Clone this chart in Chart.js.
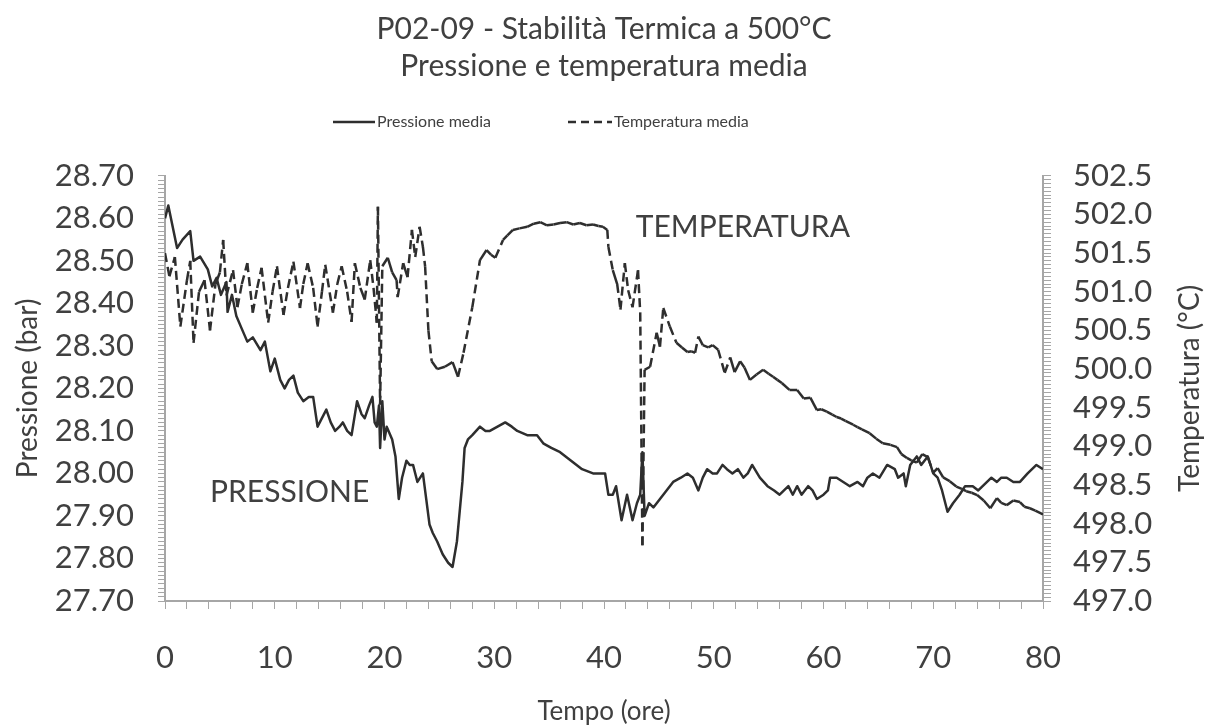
<!DOCTYPE html>
<html lang="it">
<head>
<meta charset="utf-8">
<title>P02-09 - Stabilità Termica a 500°C</title>
<script src="https://cdn.jsdelivr.net/npm/chart.js@4.4.1/dist/chart.umd.min.js"></script>
<style>
  html, body { margin: 0; padding: 0; background: #fff; }
  #wrap { width: 1208px; height: 728px; position: relative; }
</style>
</head>
<body>
<div id="wrap"><canvas id="stabilitaChart"></canvas></div>
<script>
// Pressione media (bar) nel tempo (ore)
const tempoPressione = [
  0.0, 0.3, 0.7, 1.1, 1.6, 2.3, 2.6, 3.2, 3.9, 4.3, 4.7, 5.1, 5.6, 5.7, 6.1, 6.5, 7.0, 7.5, 8.0, 8.7,
  9.1, 9.6, 10.0, 10.5, 10.9, 11.3, 11.7, 12.1, 12.6, 13.1, 13.5, 13.9, 14.3, 14.7, 15.1, 15.5, 15.9, 16.2, 16.6, 17.0,
  17.5, 17.9, 18.2, 18.6, 18.9, 19.1, 19.3, 19.5, 19.6, 19.8, 20.0, 20.2, 20.7, 21.0, 21.3, 21.6, 22.0, 22.3, 22.6, 23.0,
  23.5, 23.8, 24.1, 24.4, 24.8, 25.3, 25.8, 26.2, 26.6, 27.1, 27.3, 27.6, 28.0, 28.7, 29.2, 29.6, 30.3, 31.0, 31.6, 32.1,
  33.0, 33.9, 34.5, 35.2, 36.0, 37.0, 38.0, 39.0, 40.1, 40.4, 40.8, 41.1, 41.6, 42.1, 42.6, 43.0, 43.3, 43.5, 43.7, 44.1,
  44.5, 45.1, 45.7, 46.3, 47.0, 47.6, 48.1, 48.6, 49.0, 49.4, 49.9, 50.3, 50.8, 51.2, 51.7, 52.2, 52.7, 53.1, 53.5, 54.2,
  54.9, 55.5, 56.0, 56.4, 56.8, 57.2, 57.6, 58.0, 58.6, 59.0, 59.4, 60.0, 60.4, 60.6, 61.2, 61.8, 62.4, 63.1, 63.6, 64.0,
  64.5, 65.1, 65.8, 66.5, 66.8, 67.3, 67.5, 67.9, 68.5, 68.9, 69.5, 70.0, 70.4, 70.8, 71.3, 71.8, 72.4, 72.9, 73.6, 74.1,
  74.5, 75.3, 75.8, 76.2, 76.7, 77.3, 77.9, 78.6, 79.0, 79.4, 80.0
];
const pressioneMedia = [
  28.60, 28.63, 28.58, 28.53, 28.55, 28.57, 28.50, 28.51, 28.48, 28.44, 28.46, 28.42, 28.45, 28.38, 28.42, 28.37, 28.34, 28.31, 28.32, 28.29,
  28.31, 28.24, 28.27, 28.22, 28.20, 28.22, 28.23, 28.19, 28.17, 28.18, 28.18, 28.11, 28.13, 28.15, 28.12, 28.10, 28.11, 28.12, 28.10, 28.09,
  28.17, 28.14, 28.13, 28.16, 28.18, 28.12, 28.11, 28.16, 28.06, 28.17, 28.08, 28.11, 28.08, 28.04, 27.94, 27.99, 28.03, 28.02, 28.02, 27.98,
  28.00, 27.94, 27.88, 27.86, 27.84, 27.81, 27.79, 27.78, 27.84, 27.98, 28.06, 28.08, 28.09, 28.11, 28.10, 28.10, 28.11, 28.12, 28.11, 28.10,
  28.09, 28.09, 28.07, 28.06, 28.05, 28.03, 28.01, 28.00, 28.00, 27.95, 27.95, 27.97, 27.89, 27.95, 27.89, 27.93, 27.95, 28.05, 27.90, 27.93,
  27.92, 27.94, 27.96, 27.98, 27.99, 28.00, 27.99, 27.96, 27.99, 28.01, 28.00, 28.00, 28.02, 28.01, 28.00, 28.01, 27.99, 28.00, 28.02, 27.99,
  27.97, 27.96, 27.95, 27.96, 27.97, 27.95, 27.97, 27.95, 27.97, 27.96, 27.94, 27.95, 27.96, 27.99, 27.99, 27.98, 27.97, 27.98, 27.97, 27.99,
  28.00, 27.99, 28.02, 28.01, 27.99, 28.00, 27.97, 28.02, 28.04, 28.02, 28.04, 28.00, 27.99, 27.96, 27.91, 27.93, 27.95, 27.97, 27.97, 27.96,
  27.97, 27.99, 27.98, 27.99, 27.99, 27.98, 27.98, 28.00, 28.01, 28.02, 28.01
];

// Temperatura media (°C) nel tempo (ore)
const tempoTemperatura = [
  0.0, 0.4, 0.9, 1.4, 2.0, 2.3, 2.6, 3.1, 3.6, 4.1, 4.6, 5.0, 5.3, 5.6, 6.2, 6.6, 7.0, 7.5, 8.0, 8.4,
  8.8, 9.4, 9.8, 10.2, 10.8, 11.2, 11.7, 12.3, 12.6, 13.0, 13.5, 13.9, 14.3, 14.6, 15.3, 15.7, 16.1, 16.6, 17.0, 17.3,
  17.8, 18.2, 18.7, 19.0, 19.3, 19.4, 19.6, 19.8, 20.3, 20.7, 21.1, 21.2, 21.7, 22.1, 22.5, 22.8, 23.2, 23.5, 23.7, 24.0,
  24.3, 24.8, 25.5, 26.2, 26.7, 27.2, 28.0, 28.7, 29.3, 29.7, 30.1, 30.8, 31.2, 31.7, 32.3, 33.0, 33.6, 34.2, 34.8, 35.4,
  36.0, 36.6, 37.2, 37.8, 38.4, 39.0, 39.5, 39.9, 40.3, 40.4, 40.8, 41.2, 41.5, 41.9, 42.2, 42.6, 43.1, 43.3, 43.5, 43.7,
  44.2, 44.8, 45.1, 45.4, 46.0, 46.6, 47.1, 47.6, 48.0, 48.3, 48.6, 49.0, 49.5, 49.9, 50.4, 51.0, 51.5, 51.9, 52.4, 52.8,
  53.3, 53.9, 54.5, 55.0, 55.4, 55.8, 56.2, 56.9, 57.6, 58.2, 58.8, 59.4, 59.8, 60.3, 60.8, 61.2, 61.6, 62.0, 62.7, 63.1,
  63.5, 64.2, 64.8, 65.4, 66.1, 66.7, 67.1, 67.6, 68.0, 68.5, 69.0, 69.5, 70.0, 70.4, 70.9, 71.5, 72.1, 72.6, 73.0, 73.5,
  74.0, 74.6, 75.2, 75.8, 76.2, 76.7, 77.3, 77.9, 78.3, 78.8, 79.3, 80.0
];
const temperaturaMedia = [
  501.50, 501.20, 501.45, 500.55, 501.15, 501.40, 500.34, 501.00, 501.15, 500.50, 501.10, 501.25, 501.67, 500.95, 501.28, 500.80, 501.10, 501.37, 500.73, 501.05,
  501.31, 500.60, 501.00, 501.33, 500.70, 501.05, 501.39, 500.79, 501.10, 501.37, 501.05, 500.55, 501.00, 501.35, 500.73, 501.10, 501.33, 501.00, 500.61, 501.37,
  501.05, 500.90, 501.41, 501.05, 500.60, 502.10, 499.54, 501.33, 501.44, 501.25, 501.15, 500.93, 501.37, 501.19, 501.80, 501.45, 501.84, 501.58, 501.33, 500.50,
  500.10, 500.00, 500.03, 500.09, 499.90, 500.21, 500.80, 501.41, 501.54, 501.48, 501.44, 501.67, 501.73, 501.80, 501.82, 501.84, 501.88, 501.90, 501.86, 501.87,
  501.89, 501.90, 501.87, 501.89, 501.86, 501.87, 501.85, 501.84, 501.80, 501.58, 501.28, 501.10, 500.77, 501.37, 501.02, 500.80, 501.28, 500.73, 497.72, 499.99,
  500.03, 500.47, 500.29, 500.79, 500.55, 500.34, 500.28, 500.22, 500.23, 500.21, 500.42, 500.31, 500.28, 500.31, 500.25, 499.95, 500.15, 499.96, 500.10, 500.02,
  499.86, 499.93, 499.99, 499.94, 499.90, 499.86, 499.82, 499.73, 499.73, 499.62, 499.63, 499.47, 499.48, 499.45, 499.41, 499.38, 499.36, 499.33, 499.28, 499.25,
  499.22, 499.17, 499.10, 499.04, 499.02, 498.99, 498.90, 498.85, 498.82, 498.79, 498.90, 498.86, 498.66, 498.72, 498.60, 498.55, 498.48, 498.45, 498.42, 498.40,
  498.37, 498.30, 498.20, 498.33, 498.27, 498.24, 498.30, 498.28, 498.22, 498.20, 498.17, 498.12
];

// Etichette degli assi
const etichetteTempo = [0, 10, 20, 30, 40, 50, 60, 70, 80];
const etichettePressione = [27.70, 27.80, 27.90, 28.00, 28.10, 28.20, 28.30, 28.40, 28.50, 28.60, 28.70];
const etichetteTemperatura = [497.0, 497.5, 498.0, 498.5, 499.0, 499.5, 500.0, 500.5, 501.0, 501.5, 502.0, 502.5];

// Scritte dentro il grafico (ore, bar)
const scritte = [
  { testo: 'TEMPERATURA', x: 42.9, y: 28.578 },
  { testo: 'PRESSIONE', x: 4.1, y: 27.956 }
];

const GRIGIO_TESTO = '#404040';
const GRIGIO_ASSE = '#a6a6a6';
const NERO_LINEA = '#2e2e2e';
const TRATTEGGIO = [9, 5];

// tacche secondarie tra min e max
function tacche(min, max, passo) {
  const out = [];
  const n = Math.round((max - min) / passo);
  for (let i = 0; i <= n; i++) out.push({ value: +(min + i * passo).toFixed(4) });
  return out;
}

function etichetta(lista, v, dec) {
  return lista.some(e => Math.abs(e - v) < 1e-6) ? v.toFixed(dec) : '';
}

// legenda disegnata a mano (linea continua e tratteggiata) e titolo dell'asse destro,
// che si legge dal basso verso l'alto come quello sinistro
const legendaPlugin = {
  id: 'legendaExcel',
  afterDraw(chart) {
    const { ctx, chartArea } = chart;
    const y = 122;
    ctx.save();
    ctx.strokeStyle = NERO_LINEA;
    ctx.lineWidth = 2.5;
    ctx.beginPath();
    ctx.moveTo(333, y); ctx.lineTo(375, y);
    ctx.stroke();
    ctx.setLineDash([8, 5]);
    ctx.beginPath();
    ctx.moveTo(568, y); ctx.lineTo(612, y);
    ctx.stroke();
    ctx.setLineDash([]);
    ctx.fillStyle = GRIGIO_TESTO;
    ctx.font = '16px Lato';
    ctx.textBaseline = 'middle';
    ctx.fillText('Pressione media', 377, y);
    ctx.fillText('Temperatura media', 614, y);

    ctx.translate(1190, (chartArea.top + chartArea.bottom) / 2);
    ctx.rotate(-Math.PI / 2);
    ctx.textAlign = 'center';
    ctx.font = '28px Lato';
    ctx.fillText('Temperatura (°C)', 0, 0);
    ctx.restore();
  }
};

const scrittePlugin = {
  id: 'scritte',
  afterDatasetsDraw(chart) {
    const { ctx, scales } = chart;
    ctx.save();
    ctx.font = '30px Lato';
    ctx.fillStyle = GRIGIO_TESTO;
    ctx.textBaseline = 'middle';
    scritte.forEach(s => {
      ctx.fillText(s.testo, scales.x.getPixelForValue(s.x), scales.yP.getPixelForValue(s.y));
    });
    ctx.restore();
  }
};

const assePieno = {
  border: { display: true, color: GRIGIO_ASSE, width: 2 },
  grid: { drawOnChartArea: false, drawTicks: true, tickLength: 7, tickColor: GRIGIO_ASSE, tickWidth: 1 }
};

const ctx = document.getElementById('stabilitaChart').getContext('2d');
new Chart(ctx, {
  type: 'line',
  data: {
    datasets: [{
      label: 'Pressione media',
      data: tempoPressione.map((t, i) => ({ x: t, y: pressioneMedia[i] })),
      yAxisID: 'yP',
      borderColor: NERO_LINEA,
      borderWidth: 2.5,
      pointRadius: 0,
      tension: 0,
      borderJoinStyle: 'round'
    }, {
      label: 'Temperatura media',
      data: tempoTemperatura.map((t, i) => ({ x: t, y: temperaturaMedia[i] })),
      yAxisID: 'yT',
      borderColor: NERO_LINEA,
      borderWidth: 2.5,
      borderDash: TRATTEGGIO,
      pointRadius: 0,
      tension: 0,
      // il tratteggio riparte da ogni punto: i tratti brevi restano pieni, quelli ripidi si vedono tratteggiati
      segment: {
        borderDash: c => Math.hypot(c.p1.x - c.p0.x, c.p1.y - c.p0.y) < 16 ? [] : TRATTEGGIO,
        borderDashOffset: c => (c.p0DataIndex % 2) * 0.001
      }
    }]
  },
  options: {
    responsive: true,
    maintainAspectRatio: false,
    animation: false,
    layout: { padding: 0 },
    plugins: {
      legend: { display: false },
      tooltip: { enabled: false },
      title: {
        display: true,
        text: ['P02-09 - Stabilità Termica a 500°C', 'Pressione e temperatura media'],
        color: GRIGIO_TESTO,
        font: { family: 'Lato', size: 30, weight: 'normal', lineHeight: 1.23 },
        padding: { top: 11, bottom: 91 }
      }
    },
    scales: {
      x: {
        type: 'linear',
        min: 0,
        max: 80,
        ...assePieno,
        grid: { ...assePieno.grid, tickLength: 8 },
        afterBuildTicks: a => { a.ticks = tacche(0, 80, 2); },
        afterFit: a => { a.height = 127; },
        ticks: {
          autoSkip: false,
          maxRotation: 0,
          padding: 30,
          color: GRIGIO_TESTO,
          font: { family: 'Lato', size: 31 },
          callback: v => etichetta(etichetteTempo, v, 0)
        },
        title: {
          display: true,
          text: 'Tempo (ore)',
          color: GRIGIO_TESTO,
          font: { family: 'Lato', size: 26, lineHeight: 1.2 },
          padding: { top: 0, bottom: 1 }
        }
      },
      yP: {
        type: 'linear',
        position: 'left',
        min: 27.7,
        max: 28.7,
        ...assePieno,
        afterBuildTicks: a => { a.ticks = tacche(27.7, 28.7, 0.01); },
        afterFit: a => { a.width = 165; },
        ticks: {
          autoSkip: false,
          padding: 24,
          color: GRIGIO_TESTO,
          font: { family: 'Lato', size: 31 },
          callback: v => etichetta(etichettePressione, v, 2)
        },
        title: {
          display: true,
          text: 'Pressione (bar)',
          color: GRIGIO_TESTO,
          font: { family: 'Lato', size: 28, lineHeight: 1.2 },
          padding: { top: 11, bottom: 0 }
        }
      },
      yT: {
        type: 'linear',
        position: 'right',
        min: 497,
        max: 502.5,
        ...assePieno,
        grid: { ...assePieno.grid, tickLength: 8 },
        afterBuildTicks: a => { a.ticks = tacche(497, 502.5, 0.05); },
        afterFit: a => { a.width = 165; },
        ticks: {
          autoSkip: false,
          padding: 22,
          color: GRIGIO_TESTO,
          font: { family: 'Lato', size: 31 },
          callback: v => etichetta(etichetteTemperatura, v, 1)
        },
        title: { display: false }
      }
    }
  },
  plugins: [legendaPlugin, scrittePlugin]
});
</script>
</body>
</html>
